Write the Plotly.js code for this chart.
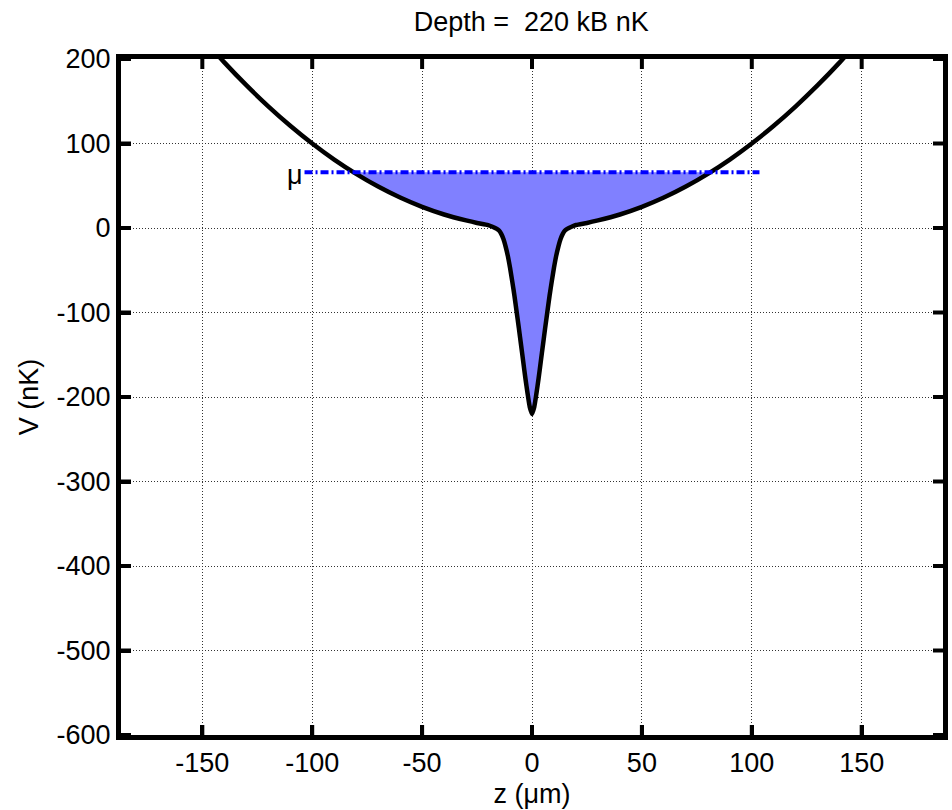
<!DOCTYPE html>
<html>
<head>
<meta charset="utf-8">
<script src="https://cdn.plot.ly/plotly-3.0.1.min.js"></script>
<style>html,body{margin:0;padding:0;background:#fff;}#chart{width:952px;height:810px;}</style>
</head>
<body>
<div id="chart"></div>
<script>
// Potential curve V(z)
var zValues = [-150,-140,-130,-120,-110,-100,-90,-80,-70,-60,-50,-40,-30,-25,-20,-18,-16,-15,-14,-13,-12,-11,-10,-9,-8,-7,-6,-5,-4,-3,-2,-1,0,
               1,2,3,4,5,6,7,8,9,10,11,12,13,14,15,16,18,20,25,30,40,50,60,70,80,90,100,110,120,130,140,150];
var vValues = [225,196,169,144,121,100,81,64,49,36,25,16,9,6,3.5,1.5,-1,-3,-7,-13,-22,-33,-47,-63,-80,-99,-118,-138,-158,-178,-196,-212,-220,
               -212,-196,-178,-158,-138,-118,-99,-80,-63,-47,-33,-22,-13,-7,-3,-1,1.5,3.5,6,9,16,25,36,49,64,81,100,121,144,169,196,225];
// Chemical potential line
var muValue = 66;
var muZ = [-103.5, 103.5];
var muLabel = 'μ';
var xTicks = [-150,-100,-50,0,50,100,150];
var yTicks = [-600,-500,-400,-300,-200,-100,0,100,200];
var titleText = 'Depth =  220 kB nK';

// Build the filled region (curve below mu) from the data
function crossing(i, j) {
  var t = (muValue - vValues[i]) / (vValues[j] - vValues[i]);
  return zValues[i] + t * (zValues[j] - zValues[i]);
}
var fillZ = [], fillV = [];
for (var i = 0; i < zValues.length; i++) {
  if (vValues[i] <= muValue) {
    if (i > 0 && vValues[i-1] > muValue && fillZ.length === 0) {
      fillZ.push(crossing(i-1, i)); fillV.push(muValue);
    }
    fillZ.push(zValues[i]); fillV.push(vValues[i]);
    if (i < zValues.length - 1 && vValues[i+1] > muValue) {
      fillZ.push(crossing(i, i+1)); fillV.push(muValue);
    }
  }
}

var font = 'Liberation Sans, Arial, Helvetica, sans-serif';
var fs = 27;
var plotW = 952 - 121 - 9, plotH = 810 - 59 - 75;
var tickPx = 10;

var traces = [
  {x: fillZ, y: fillV, mode: 'lines', fill: 'toself', fillcolor: 'rgb(128,128,255)',
   line: {width: 0, color: 'rgba(0,0,0,0)'}, hoverinfo: 'skip', showlegend: false},
  {x: zValues, y: vValues, mode: 'lines', line: {color: 'black', width: 4.5, shape: 'spline', smoothing: 0.6},
   showlegend: false},
  {x: muZ, y: [muValue, muValue], mode: 'lines', line: {color: 'rgb(0,0,255)', width: 4, dash: '8px,3px,2px,3px'},
   showlegend: false}
];

// Inside tick marks on all four sides, placed at the tick values
var shapes = [];
xTicks.forEach(function (t) {
  [[0, tickPx / plotH], [1, 1 - tickPx / plotH]].forEach(function (p) {
    shapes.push({type: 'line', xref: 'x', yref: 'paper', x0: t, x1: t, y0: p[0], y1: p[1],
                 line: {color: 'black', width: 4}, layer: 'above'});
  });
});
yTicks.forEach(function (t) {
  [[0, tickPx / plotW], [1, 1 - tickPx / plotW]].forEach(function (p) {
    shapes.push({type: 'line', xref: 'paper', yref: 'y', y0: t, y1: t, x0: p[0], x1: p[1],
                 line: {color: 'black', width: 4}, layer: 'above'});
  });
});

var axisCommon = {
  showgrid: true, griddash: '1px,2px', gridcolor: '#333', gridwidth: 1,
  zeroline: false, showline: true, linecolor: 'black', linewidth: 5, mirror: true,
  ticks: 'inside', ticklen: 10, tickwidth: 4, tickcolor: 'black',
  tickfont: {family: font, size: fs, color: 'black'}
};

var layout = {
  width: 952, height: 810,
  margin: {l: 121, r: 9, t: 59, b: 75},
  paper_bgcolor: 'white', plot_bgcolor: 'white',
  title: {text: titleText, font: {family: font, size: fs, color: 'black'},
          x: 0.558, xanchor: 'center', y: 1 - 22/810, yanchor: 'middle', yref: 'container'},
  xaxis: Object.assign({}, axisCommon, {
    range: [-187, 187], tickmode: 'array', tickvals: xTicks, ticktext: xTicks.map(String),
    title: {text: 'z (μm)', font: {family: font, size: fs, color: 'black'}, standoff: 8}
  }),
  yaxis: Object.assign({}, axisCommon, {
    range: [-600, 200], tickmode: 'array', tickvals: yTicks, ticktext: yTicks.map(String),
    title: {text: 'V (nK)', font: {family: font, size: fs, color: 'black'}, standoff: 12}
  }),
  shapes: shapes,
  annotations: [{
    x: muZ[0], y: muValue, xref: 'x', yref: 'y', text: muLabel, showarrow: false,
    xanchor: 'right', yanchor: 'middle', font: {family: font, size: fs, color: 'black'}, xshift: 0, yshift: -3
  }]
};

Plotly.newPlot('chart', traces, layout, {displayModeBar: false, staticPlot: true});
</script>
</body>
</html>
